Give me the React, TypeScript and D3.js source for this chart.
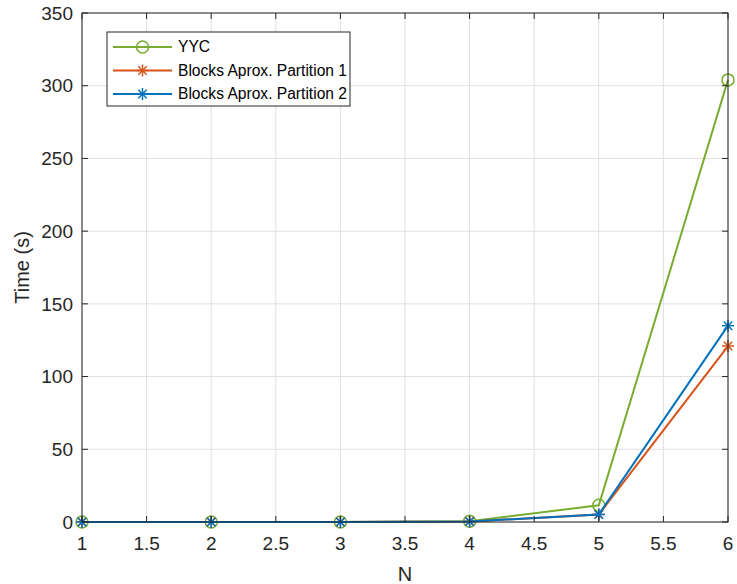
import * as d3 from "d3";

const nValues = [1, 2, 3, 4, 5, 6];
const yycTimes = [0.02, 0.03, 0.05, 0.5, 11.5, 304];
const part1Times = [0.01, 0.02, 0.04, 0.3, 5.2, 121];
const part2Times = [0.01, 0.02, 0.04, 0.3, 5.2, 135];
const xTicks = [1, 1.5, 2, 2.5, 3, 3.5, 4, 4.5, 5, 5.5, 6];
const yTicks = [0, 50, 100, 150, 200, 250, 300, 350];

const seriesList = [
  { name: "YYC", values: yycTimes, color: "#77AC30", marker: "o" },
  { name: "Blocks Aprox. Partition 1", values: part1Times, color: "#D95319", marker: "*" },
  { name: "Blocks Aprox. Partition 2", values: part2Times, color: "#0072BD", marker: "*" },
];

const width = 737;
const height = 584;
const marginLeft = 82;
const marginRight = 8;
const marginTop = 13;
const marginBottom = 62;
const font = "Arial, 'Liberation Sans', sans-serif";

function Marker({ kind, cx, cy, color }: { kind: string; cx: number; cy: number; color: string }) {
  if (kind === "o") {
    return <circle cx={cx} cy={cy} r={6} fill="none" stroke={color} strokeWidth={1.5} />;
  }
  const r = 6;
  const d = r * 0.707;
  return (
    <g stroke={color} strokeWidth={1.5}>
      <line x1={cx - r} y1={cy} x2={cx + r} y2={cy} />
      <line x1={cx} y1={cy - r} x2={cx} y2={cy + r} />
      <line x1={cx - d} y1={cy - d} x2={cx + d} y2={cy + d} />
      <line x1={cx - d} y1={cy + d} x2={cx + d} y2={cy - d} />
    </g>
  );
}

export default function App() {
  const x = d3.scaleLinear([1, 6], [marginLeft, width - marginRight - 1]);
  const y = d3.scaleLinear([0, 350], [height - marginBottom, marginTop]);
  const line = d3.line<[number, number]>().x((d) => x(d[0])).y((d) => y(d[1]));
  const x0 = x(1), x1 = x(6), y0 = y(0), y1 = y(350);
  const tick = 6;

  return (
    <svg width={width} height={height} style={{ position: "absolute", left: 0, top: 0, background: "#fff" }} fontFamily={font}>
      <rect x={0} y={0} width={width} height={height} fill="#fff" />
      {/* grid */}
      <g stroke="#dfdfdf" strokeWidth={1}>
        {xTicks.map((t) => <line key={"gx" + t} x1={x(t)} x2={x(t)} y1={y0} y2={y1} />)}
        {yTicks.map((t) => <line key={"gy" + t} x1={x0} x2={x1} y1={y(t)} y2={y(t)} />)}
      </g>
      {/* series */}
      {seriesList.map((s) => (
        <g key={s.name}>
          <path d={line(nValues.map((n, i) => [n, s.values[i]] as [number, number])) || ""} fill="none" stroke={s.color} strokeWidth={2} />
          {nValues.map((n, i) => <Marker key={i} kind={s.marker} cx={x(n)} cy={y(s.values[i])} color={s.color} />)}
        </g>
      ))}
      {/* box and ticks */}
      <g stroke="#262626" strokeWidth={1} fill="none">
        <rect x={x0} y={y1} width={x1 - x0} height={y0 - y1} />
        {xTicks.map((t) => (
          <g key={"tx" + t}>
            <line x1={x(t)} x2={x(t)} y1={y0} y2={y0 - tick} />
            <line x1={x(t)} x2={x(t)} y1={y1} y2={y1 + tick} />
          </g>
        ))}
        {yTicks.map((t) => (
          <g key={"ty" + t}>
            <line x1={x0} x2={x0 + tick} y1={y(t)} y2={y(t)} />
            <line x1={x1} x2={x1 - tick} y1={y(t)} y2={y(t)} />
          </g>
        ))}
      </g>
      <g fill="#262626" fontSize={19}>
        {xTicks.map((t) => (
          <text key={"lx" + t} x={x(t)} y={y0 + 28} textAnchor="middle">{t}</text>
        ))}
        {yTicks.map((t) => (
          <text key={"ly" + t} x={x0 - 9} y={y(t)} dy="0.35em" textAnchor="end">{t}</text>
        ))}
        <text x={(x0 + x1) / 2} y={height - 3} textAnchor="middle" fontSize={20}>N</text>
        <text transform={`translate(29,${(y0 + y1) / 2}) rotate(-90)`} textAnchor="middle" fontSize={20}>Time (s)</text>
      </g>
      {/* legend */}
      <g>
        <rect x={107} y={32} width={243} height={74} fill="#fff" stroke="#262626" strokeWidth={1} />
        {seriesList.map((s, i) => {
          const ly = 47 + i * 23.5;
          return (
            <g key={"lg" + s.name}>
              <line x1={113} x2={172} y1={ly} y2={ly} stroke={s.color} strokeWidth={2} />
              <Marker kind={s.marker} cx={142.5} cy={ly} color={s.color} />
              <text x={178} y={ly} dy="0.35em" fontSize={15.6} fill="#000">{s.name}</text>
            </g>
          );
        })}
      </g>
    </svg>
  );
}
